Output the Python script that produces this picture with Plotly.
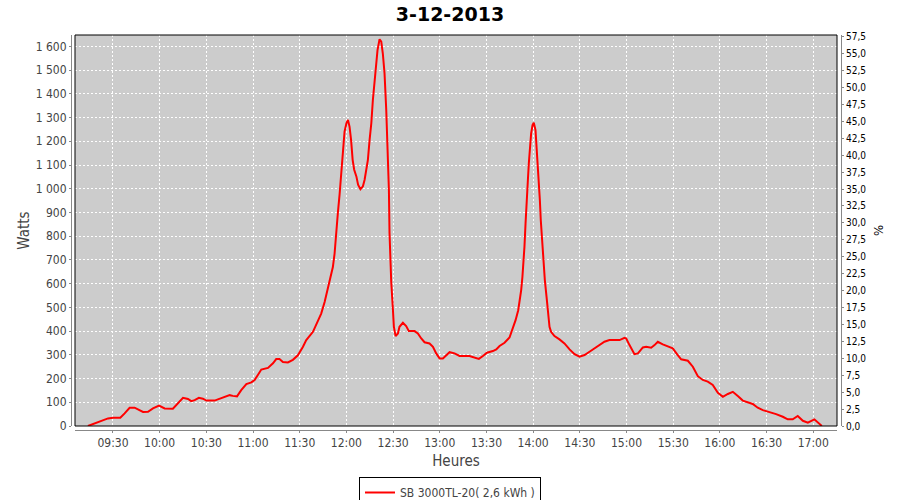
import plotly.graph_objects as go

DAY = "2013-12-03"
title_text = "3-12-2013"
series_name = "SB 3000TL-20( 2,6 kWh )"

times = [
    "09:13:54", "09:19:18", "09:26:48", "09:30:00", "09:34:42", "09:37:30", "09:40:42", "09:43:54",
    "09:47:06", "09:49:18", "09:52:30", "09:55:42", "09:59:36", "10:03:12", "10:08:30", "10:11:48",
    "10:15:00", "10:18:12", "10:20:18", "10:22:30", "10:25:12", "10:27:48", "10:30:00", "10:35:18",
    "10:38:30", "10:41:42", "10:45:00", "10:47:00", "10:49:42", "10:52:24", "10:55:42", "10:58:54",
    "11:01:00", "11:03:06", "11:05:18", "11:09:36", "11:12:48", "11:14:54", "11:17:00", "11:19:12",
    "11:22:24", "11:25:36", "11:28:48", "11:32:00", "11:34:12", "11:38:30", "11:40:36", "11:43:48",
    "11:46:00", "11:48:06", "11:50:18", "11:51:18", "11:52:24", "11:53:30", "11:54:30", "11:55:36",
    "11:56:42", "11:57:48", "11:58:48", "12:00:00", "12:01:00", "12:02:00", "12:03:00", "12:04:00",
    "12:05:00", "12:06:24", "12:07:30", "12:09:00", "12:10:36", "12:11:42", "12:12:42", "12:13:48",
    "12:14:54", "12:16:00", "12:17:00", "12:18:00", "12:19:00", "12:20:00", "12:21:18", "12:22:24",
    "12:23:24", "12:24:30", "12:25:36", "12:26:12", "12:26:36", "12:27:18", "12:27:42", "12:28:12",
    "12:28:48", "12:29:54", "12:30:30", "12:31:36", "12:33:06", "12:34:06", "12:36:18", "12:38:24",
    "12:40:06", "12:43:48", "12:45:54", "12:48:06", "12:50:12", "12:53:24", "12:55:36", "12:57:42",
    "12:59:54", "13:02:00", "13:06:18", "13:09:30", "13:12:42", "13:19:06", "13:22:18", "13:25:06",
    "13:27:42", "13:30:18", "13:34:06", "13:36:18", "13:38:24", "13:41:36", "13:44:48", "13:47:00",
    "13:48:42", "13:50:24", "13:51:24", "13:52:18", "13:53:06", "13:53:48", "13:54:24", "13:55:06",
    "13:55:42", "13:56:36", "13:57:12", "13:57:54", "13:58:42", "13:59:36", "14:00:24", "14:01:30",
    "14:02:06", "14:02:48", "14:03:36", "14:04:18", "14:04:54", "14:05:48", "14:06:24", "14:07:30",
    "14:08:36", "14:09:36", "14:10:30", "14:11:30", "14:13:42", "14:16:54", "14:20:06", "14:23:24",
    "14:26:36", "14:29:48", "14:33:00", "14:36:12", "14:39:24", "14:42:36", "14:45:48", "14:49:00",
    "14:55:30", "14:58:42", "14:59:48", "15:01:54", "15:05:06", "15:07:18", "15:10:30", "15:12:36",
    "15:15:48", "15:18:00", "15:20:06", "15:23:18", "15:26:30", "15:29:42", "15:32:54", "15:35:06",
    "15:39:24", "15:42:36", "15:45:48", "15:49:00", "15:52:12", "15:55:24", "15:58:42", "16:01:54",
    "16:05:06", "16:08:18", "16:11:30", "16:14:42", "16:21:06", "16:24:18", "16:27:36", "16:31:48",
    "16:36:06", "16:40:24", "16:43:36", "16:46:48", "16:50:00", "16:53:18", "16:56:30", "17:00:42",
    "17:02:54", "17:05:30",
]

watts = [
    0, 14, 32, 35, 35, 53, 77, 77,
    65, 59, 60, 74, 86, 74, 73, 98,
    119, 114, 105, 109, 119, 115, 107, 107,
    114, 123, 130, 127, 125, 151, 177, 184,
    194, 215, 238, 245, 264, 282, 282, 270,
    268, 279, 298, 333, 362, 397, 425, 474,
    523, 579, 642, 670, 727, 800, 897, 975,
    1073, 1178, 1241, 1276, 1290, 1262, 1206, 1122,
    1080, 1052, 1017, 998, 1010, 1038, 1080, 1122,
    1206, 1276, 1374, 1444, 1521, 1585, 1630, 1620,
    1570, 1486, 1332, 1234, 1122, 996, 813, 700,
    608, 488, 418, 379, 390, 418, 435, 421,
    400, 400, 390, 369, 353, 348, 334, 306,
    285, 285, 311, 306, 295, 295, 288, 283,
    295, 309, 316, 323, 337, 351, 373, 411,
    446, 488, 530, 573, 629, 685, 755, 853,
    952, 1036, 1106, 1176, 1233, 1268, 1278, 1247,
    1190, 1120, 1036, 952, 867, 783, 699, 615,
    544, 474, 418, 397, 379, 365, 348, 323,
    303, 292, 299, 313, 327, 344, 355, 362,
    362, 372, 369, 341, 303, 306, 331, 334,
    330, 341, 355, 344, 337, 327, 299, 281,
    275, 250, 210, 194, 187, 173, 140, 123,
    135, 144, 126, 107, 93, 77, 67, 60,
    50, 39, 28, 28, 42, 22, 14, 28,
    14, 0,
]

x_range = ["09:05:36", "17:15:14"]
watts_range = [0, 1648]
pct_range = [0, 57.75]

xs = [f"{DAY} {t}" for t in times]

FONT = "DejaVu Sans Condensed, DejaVu Sans, sans-serif"
W, H = 900, 500
px_l, px_r, px_t, px_b = 75, 837, 35, 426

fig = go.Figure()
fig.add_trace(go.Scatter(
    x=xs, y=watts, mode="lines", name=series_name,
    line=dict(color="#FF0000", width=2), yaxis="y",
))
fig.add_trace(go.Scatter(x=[], y=[], yaxis="y2", showlegend=False, hoverinfo="skip"))

axis_common = dict(
    showline=True, linecolor="#888888", linewidth=1,
    ticks="outside", ticklen=2, tickcolor="#888888",
    zeroline=False, automargin=False,
)

fig.update_layout(
    width=W, height=H,
    margin=dict(l=0, r=0, t=0, b=0, autoexpand=False),
    paper_bgcolor="white", plot_bgcolor="#CCCCCC",
    font=dict(family=FONT, size=12, color="#444444"),
    separators=", ",
    showlegend=True,
    title=dict(text=f"<b>{title_text}</b>", x=0.5, xanchor="center",
               y=1 - 14 / H, yanchor="middle",
               font=dict(size=19, color="black", family="DejaVu Sans, sans-serif")),
    xaxis=dict(
        domain=[px_l / W, px_r / W], anchor="free", position=(H - 430) / H,
        type="date", range=[f"{DAY} {x_range[0]}", f"{DAY} {x_range[1]}"],
        tick0=f"{DAY} 09:30", dtick=30 * 60 * 1000, tickformat="%H:%M",
        showgrid=True, gridcolor="white", griddash="2px,2px", gridwidth=1,
        tickfont=dict(size=12, color="#444444"),
        title=dict(text="Heures", font=dict(size=15, color="#444444"), standoff=6),
        **axis_common,
    ),
    yaxis=dict(
        domain=[(H - px_b) / H, (H - px_t) / H], anchor="free", position=71 / W,
        range=watts_range, dtick=100, separatethousands=True, tickformat=",d",
        showgrid=True, gridcolor="white", griddash="2px,2px", gridwidth=1,
        tickfont=dict(size=12, color="#444444"),
        title=dict(text="Watts", font=dict(size=15, color="#444444"), standoff=1),
        **axis_common,
    ),
    yaxis2=dict(
        overlaying="y", side="right", anchor="free", position=841 / W,
        range=pct_range, dtick=2.5, tickformat=".1f",
        showgrid=False,
        tickfont=dict(size=10, color="black"),
        title=dict(text="%", font=dict(size=13, color="black"), standoff=8),
        **axis_common,
    ),
    legend=dict(
        orientation="h", x=0.5, xanchor="center", y=(H - 477) / H, yanchor="top",
        bordercolor="black", borderwidth=1, bgcolor="white",
        font=dict(size=12, color="#444444"), itemwidth=30,
        tracegroupgap=0,
    ),
    shapes=[dict(
        type="rect", xref="paper", yref="paper",
        x0=px_l / W, x1=px_r / W, y0=(H - px_b) / H, y1=(H - px_t) / H,
        line=dict(color="black", width=1), fillcolor="rgba(0,0,0,0)", layer="above",
    )],
)

fig.write_html(
    "out.html",
    config={"displayModeBar": False},
    post_script="document.body.style.margin='0';document.body.style.overflow='hidden';",
)
